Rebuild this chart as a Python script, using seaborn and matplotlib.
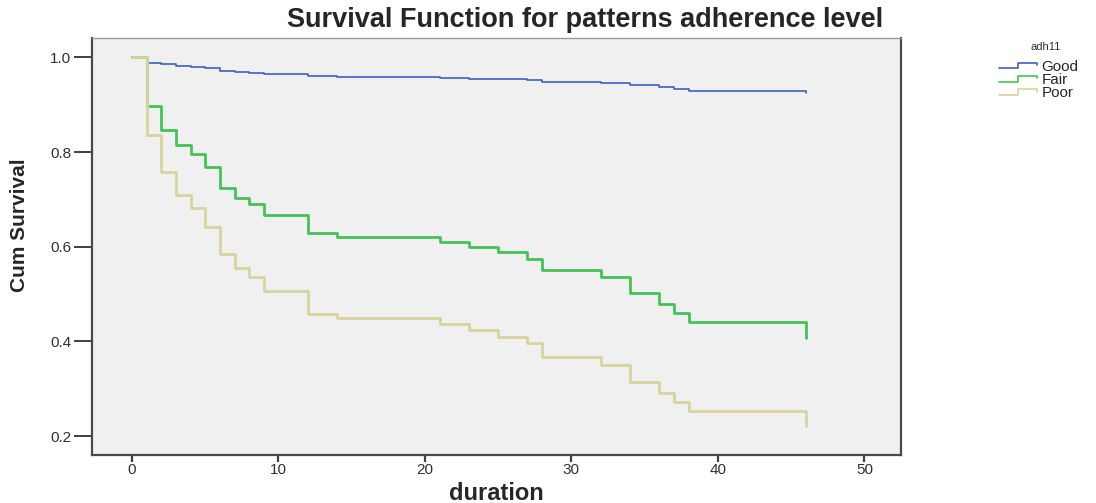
import matplotlib
matplotlib.use("Agg")
import matplotlib.pyplot as plt
from matplotlib.lines import Line2D
from matplotlib.legend_handler import HandlerBase
import seaborn as sns
import pandas as pd

# ---- data ----
groups = ["Good", "Fair", "Poor"]
times = [0, 1, 2, 3, 4, 5, 6, 7, 8, 9, 12, 14, 21, 23, 25, 27, 28, 32, 34, 36, 37, 38, 46, 46]
good = [1.0, 0.989, 0.985, 0.982, 0.980, 0.977, 0.972, 0.969, 0.967, 0.965, 0.961, 0.959,
        0.957, 0.955, 0.954, 0.952, 0.948, 0.946, 0.941, 0.937, 0.934, 0.930, 0.930, 0.925]
fair = [1.0, 0.897, 0.846, 0.815, 0.795, 0.768, 0.725, 0.703, 0.690, 0.667, 0.628, 0.620,
        0.609, 0.600, 0.588, 0.575, 0.551, 0.535, 0.502, 0.480, 0.459, 0.440, 0.440, 0.407]
poor = [1.0, 0.836, 0.757, 0.709, 0.681, 0.642, 0.585, 0.554, 0.535, 0.507, 0.458, 0.449,
        0.437, 0.424, 0.410, 0.396, 0.368, 0.350, 0.314, 0.292, 0.271, 0.252, 0.252, 0.221]
x_ticks = [0, 10, 20, 30, 40, 50]
y_ticks = [0.2, 0.4, 0.6, 0.8, 1.0]

colors = {"Good": "#3d5ec6", "Fair": "#45c257", "Poor": "#d8d49c"}
widths = {"Good": 1.2, "Fair": 2.0, "Poor": 2.0}

rows = []
for g, vals in zip(groups, [good, fair, poor]):
    for t, v in zip(times, vals):
        rows.append({"duration": t, "surv": v, "adh11": g})
df = pd.DataFrame(rows)

sns.set_style("white")
plt.rcParams["font.family"] = ["Liberation Sans", "DejaVu Sans"]

fig = plt.figure(figsize=(10.96, 5.03), dpi=100)
ax = fig.add_axes([92 / 1096, 48 / 503, (901 - 92) / 1096, (455 - 37.5) / 503])
ax.set_facecolor("#f0f0f0")

for g in groups:
    sub = df[df["adh11"] == g]
    sns.lineplot(data=sub, x="duration", y="surv", color=colors[g], linewidth=widths[g],
                 drawstyle="steps-post", estimator=None, sort=False, ax=ax, label=g)

ax.set_xlim(-2.73, 52.5)
ax.set_ylim(0.160, 1.042)
ax.set_xticks(x_ticks)
ax.set_xticklabels([str(t) for t in x_ticks])
ax.set_yticks(y_ticks)
ax.set_yticklabels([f"{t:.1f}" for t in y_ticks])
ax.tick_params(axis="both", bottom=True, left=True, labelsize=11, colors="#404040",
               labelcolor="#303030", direction="out")
ax.tick_params(axis="y", length=13, width=1.4, pad=2)
ax.tick_params(axis="x", length=5, width=1.6, pad=0.5)
ax.grid(False)

for side in ["left", "bottom", "right"]:
    ax.spines[side].set_color("#4a4a4a")
    ax.spines[side].set_linewidth(1.6)
ax.spines["top"].set_color("#9a9a9a")
ax.spines["top"].set_linewidth(1.0)

ax.set_xlabel("duration", fontsize=17, fontweight="bold")
ax.xaxis.set_label_coords(0.5, -(493 - 455) / (455 - 37.5), transform=ax.transAxes)
ax.xaxis.label.set_va("center")
ax.set_ylabel("Cum Survival", fontsize=15, fontweight="bold")
ax.yaxis.set_label_coords(-(92 - 20) / (901 - 92), (455 - 225) / (455 - 37.5))
ax.yaxis.label.set_va("center")

fig.text(585 / 1096, 1 - 20 / 503, "Survival Function for patterns adherence level",
         ha="center", va="center", fontsize=19.5, fontweight="bold")


class StepHandler(HandlerBase):
    def create_artists(self, legend, orig_handle, xdescent, ydescent, width, height,
                       fontsize, trans):
        x0, y0 = -xdescent, -ydescent
        xs = [x0, x0 + 0.5 * width, x0 + 0.5 * width, x0 + width, x0 + width]
        ys = [y0 + 0.2 * height, y0 + 0.2 * height, y0 + 0.75 * height,
              y0 + 0.75 * height, y0 + 0.5 * height]
        ln = Line2D(xs, ys, color=orig_handle.get_color(), lw=1.2)
        ln.set_transform(trans)
        return [ln]


handles, labels = ax.get_legend_handles_labels()
if ax.legend_:
    ax.legend_.remove()
fig.text(1046 / 1096, 1 - 47 / 503, "adh11", ha="center", va="center", fontsize=8,
         color="#303030")
leg = fig.legend(handles, labels, loc="upper left", bbox_to_anchor=(994 / 1096, 1 - 55 / 503),
                 frameon=False, fontsize=11, handlelength=2.5, handletextpad=0.3,
                 labelspacing=-0.05, borderaxespad=0, borderpad=0.3,
                 handler_map={Line2D: StepHandler()})

fig.savefig("out.png", dpi=100, facecolor="white")
